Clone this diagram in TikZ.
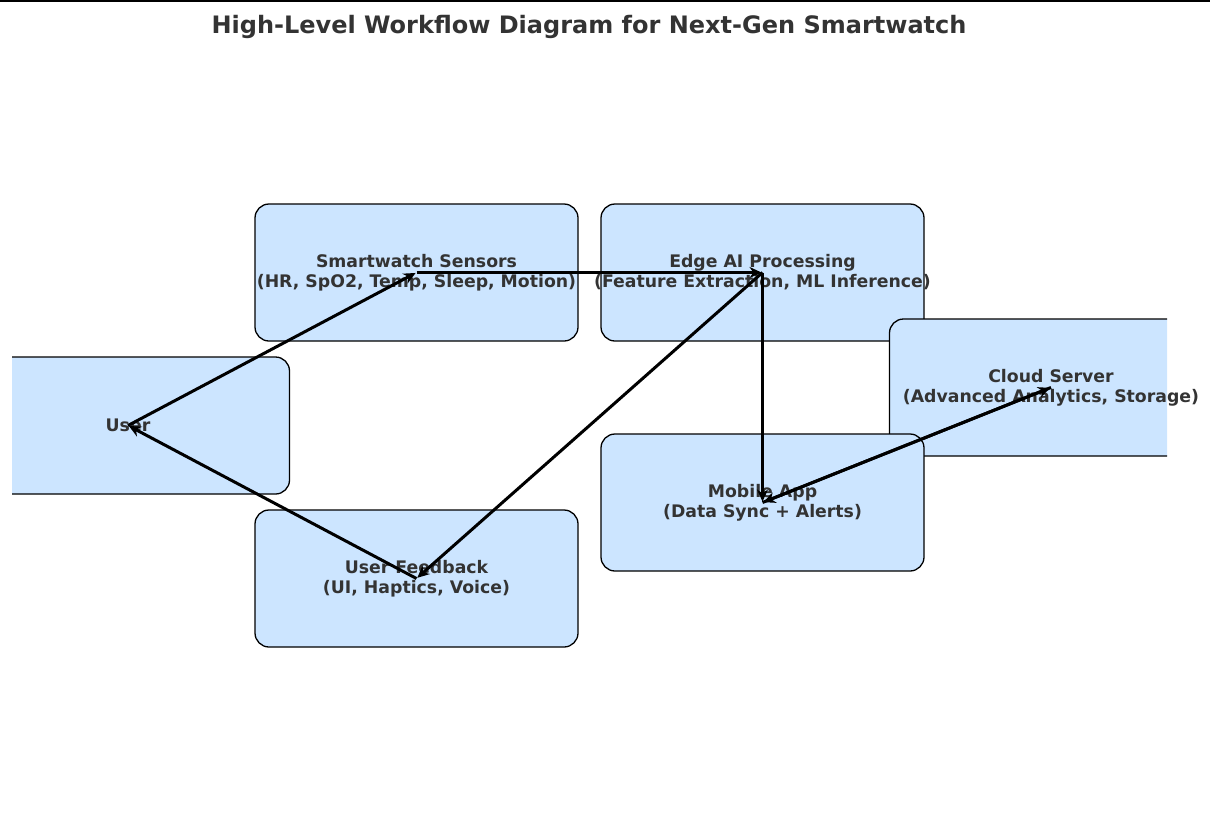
\documentclass[tikz,border=0pt]{standalone}
\usepackage{fontspec}
\setmainfont{DejaVu Sans}
\usetikzlibrary{arrows.meta, calc}
\definecolor{boxblue}{HTML}{CCE5FF}
\definecolor{txtgray}{HTML}{333333}
\tikzstyle{block} = [rectangle, rounded corners=14pt, minimum width=323pt, minimum height=137pt, inner sep=0pt, fill=boxblue, draw=black, line width=1.3pt]
\tikzstyle{boxtext} = [align=center, text=txtgray, font=\fontsize{17.3}{20}\selectfont\bfseries]
\tikzstyle{arrow} = [line width=3pt, -{Stealth[length=12pt, width=11pt]}, shorten >=1pt]

\begin{document}
\begin{tikzpicture}[x=1pt, y=-1pt]
		\useasboundingbox (0,0) rectangle (1210,817);
		\draw[line width=2pt] (0,1) -- (1210,1);
		\node (Title) [text=txtgray, font=\fontsize{24}{28}\selectfont\bfseries] at (589,27) {High-Level Workflow Diagram for Next-Gen Smartwatch};
		
		\begin{scope}
		\clip (12,0) rectangle (1167,817);
		\node (UserBox) [block] at (128,425.5) {};
		\node (SensorsBox) [block] at (416.5,272.5) {};
		\node (EdgeBox) [block] at (762.5,272.5) {};
		\node (CloudBox) [block] at (1051,387.5) {};
		\node (MobileBox) [block] at (762.5,502.5) {};
		\node (FeedbackBox) [block] at (416.5,578.5) {};
		\end{scope}
		
		\node (User) [boxtext] at (UserBox) {User};
		\node (Sensors) [boxtext] at (SensorsBox) {Smartwatch Sensors\\(HR, SpO2, Temp, Sleep, Motion)};
		\node (Edge) [boxtext] at (EdgeBox) {Edge AI Processing\\(Feature Extraction, ML Inference)};
		\node (Cloud) [boxtext] at (CloudBox) {Cloud Server\\(Advanced Analytics, Storage)};
		\node (Mobile) [boxtext] at (MobileBox) {Mobile App\\(Data Sync + Alerts)};
		\node (Feedback) [boxtext] at (FeedbackBox) {User Feedback\\(UI, Haptics, Voice)};
		
		\draw [arrow] (User.center) -- (Sensors.center);
		\draw [arrow] (Sensors.center) -- (Edge.center);
		\draw [arrow] (Edge.center) -- (Mobile.center);
		\draw [arrow] (Mobile.center) -- (Cloud.center);
		\draw [arrow] (Cloud.center) -- (Mobile.center);
		\draw [arrow] (Edge.center) -- (Feedback.center);
		\draw [arrow] (Feedback.center) -- (User.center);
		\end{tikzpicture}
\end{document}
